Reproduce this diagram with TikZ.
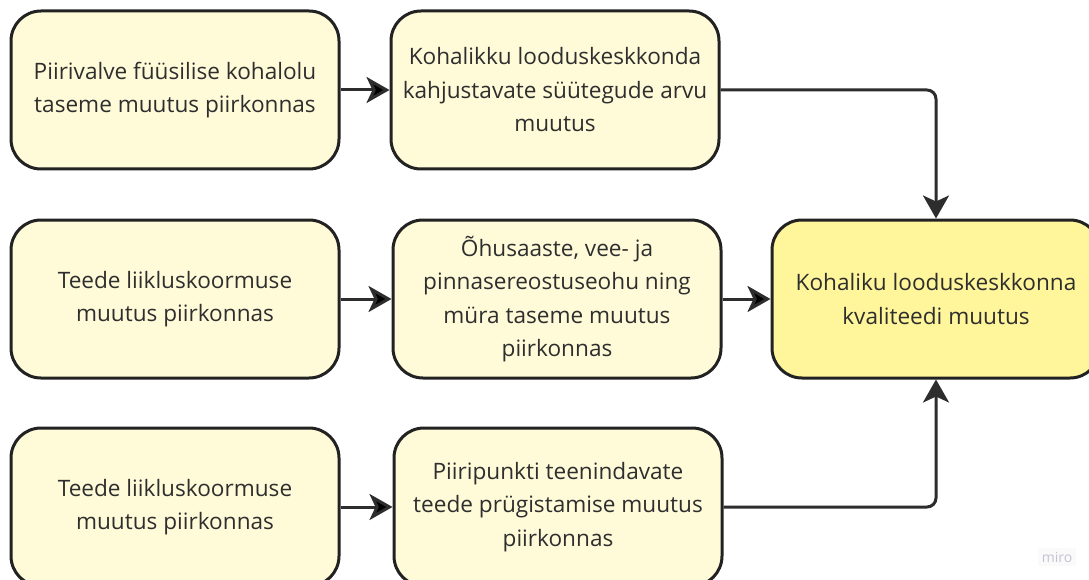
\documentclass[tikz,border=0pt]{standalone}
\usepackage{fontspec}
\setmainfont{Open Sans}
\usetikzlibrary{arrows.meta}

\definecolor{boxfill}{HTML}{FFFBD9}
\definecolor{goalfill}{HTML}{FFF59B}
\definecolor{ink}{HTML}{222222}
\definecolor{txt}{HTML}{2E2E2E}
\definecolor{mark}{HTML}{C4C4D2}

\tikzset{
	cause/.style={draw=ink, line width=3pt, fill=boxfill, rounded corners=30pt,
		minimum width=328pt, minimum height=158pt, align=center, text=txt,
		font=\fontsize{22.6}{33.5}\selectfont},
	goal/.style={cause, fill=goalfill},
	link/.style={draw=ink!95, line width=3pt, rounded corners=9pt,
		-{Stealth[length=23pt,width=26pt,inset=6pt]}}
}

\begin{document}
\begin{tikzpicture}[x=1pt,y=-1pt]
	\useasboundingbox[fill=white] (0,0) rectangle (1089,580);
	\clip (0,0) rectangle (1089,580);
	
	\node[cause] (a1) at (175, 90)     {Piirivalve füüsilise kohalolu\\taseme muutus piirkonnas};
	\node[cause] (b1) at (555, 90)     {Kohalikku looduskeskkonda\\kahjustavate süütegude arvu\\muutus};
	\node[cause] (a2) at (175, 299)    {Teede liikluskoormuse\\muutus piirkonnas};
	\node[cause] (b2) at (557, 299)    {Õhusaaste, vee- ja\\pinnasereostuseohu ning\\müra taseme muutus\\piirkonnas};
	\node[goal]  (c)  at (936, 299)    {Kohaliku looduskeskkonna\\kvaliteedi muutus};
	\node[cause] (a3) at (175, 507)    {Teede liikluskoormuse\\muutus piirkonnas};
	\node[cause] (b3) at (558, 507)    {Piiripunkti teenindavate\\teede prügistamise muutus\\piirkonnas};
	\node[text=mark, fill=black!2, font=\fontsize{14}{16}\selectfont] (wm) at (1057, 557) {miro};
	
	\path[link] (a1) edge (b1);
	\path[link] (a2) edge (b2);
	\path[link] (b2) edge (c);
	\path[link] (a3) edge (b3);
	\draw[link] (b1.east) -| (c.north);
	\draw[link] (b3.east) -| (c.south);
\end{tikzpicture}
\end{document}
